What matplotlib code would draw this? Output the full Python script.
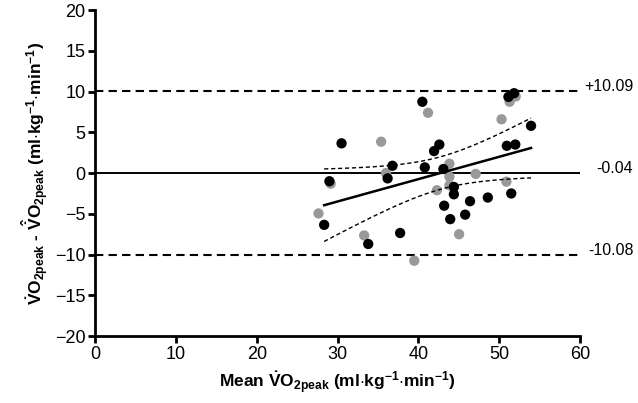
import matplotlib
matplotlib.use('Agg')
import matplotlib.pyplot as plt
import numpy as np

plt.rcParams['font.family'] = ['Liberation Sans', 'DejaVu Sans']
plt.rcParams['mathtext.fontset'] = 'custom'
plt.rcParams['mathtext.rm'] = 'Liberation Sans:bold'
plt.rcParams['mathtext.it'] = 'Liberation Sans:bold'
plt.rcParams['mathtext.bf'] = 'Liberation Sans:bold'

# Bland-Altman data: mean VO2peak vs difference
black_x = [40.5, 30.5, 42.6, 41.95, 36.8, 36.2, 40.8, 43.1, 44.4, 44.4, 43.2, 43.95, 45.8,
           46.4, 48.6, 51.5, 50.95, 52.0, 53.95, 51.15, 51.85, 29.0, 28.35, 33.8, 37.75]
black_y = [8.75, 3.65, 3.5, 2.7, 0.9, -0.65, 0.7, 0.5, -1.7, -2.6, -4.0, -5.65, -5.1,
           -3.45, -3.0, -2.5, 3.35, 3.5, 5.8, 9.35, 9.8, -1.0, -6.35, -8.7, -7.35]
gray_x = [41.2, 35.4, 36.0, 43.85, 43.85, 43.85, 42.3, 47.1, 50.9, 50.3, 51.3, 52.05,
          29.15, 27.65, 33.3, 45.05, 39.5]
gray_y = [7.4, 3.85, 0.0, 1.15, -0.45, -1.5, -2.1, -0.1, -1.05, 6.6, 8.75, 9.4,
          -1.3, -4.95, -7.65, -7.5, -10.75]

bias = -0.04
upper_loa = 10.09
lower_loa = -10.08

# regression of difference on mean (black group), with 95% CI of the line
bx = np.array(black_x)
by = np.array(black_y)
slope, icpt = np.polyfit(bx, by, 1)
n = len(bx)
resid = by - (slope * bx + icpt)
s = np.sqrt(np.sum(resid ** 2) / (n - 2))
xs = np.linspace(bx.min(), bx.max(), 100)
fit = slope * xs + icpt
se = s * np.sqrt(1 / n + (xs - bx.mean()) ** 2 / np.sum((bx - bx.mean()) ** 2))
ci = 2.07 * se

fig = plt.figure(figsize=(6.38, 4.03), dpi=100)
ax = fig.add_axes([0.149, 0.166, 0.760, 0.809])

ax.axhline(upper_loa, color='black', lw=1.5, ls=(0, (4, 2.5)))
ax.axhline(lower_loa, color='black', lw=1.5, ls=(0, (4, 2.5)))
ax.axhline(bias, color='black', lw=1.4)

ax.scatter(gray_x, gray_y, s=55, color='#999999', edgecolors='none', zorder=3)
ax.scatter(black_x, black_y, s=55, color='black', edgecolors='none', zorder=4)

ax.plot(xs, fit, color='black', lw=1.8, zorder=5)
ax.plot(xs, fit + ci, color='black', lw=1.0, ls=(0, (3, 2)), zorder=5)
ax.plot(xs, fit - ci, color='black', lw=1.0, ls=(0, (3, 2)), zorder=5)

for val, lab in [(upper_loa, '+10.09'), (bias, '-0.04'), (lower_loa, '-10.08')]:
    ax.text(66.6, val, lab, ha='right', va='baseline', fontsize=11.5, clip_on=False)

ax.set_xlim(0, 60)
ax.set_ylim(-20, 20)
ax.set_xticks(range(0, 61, 10))
ax.set_yticks(range(-20, 21, 5))
for side in ['top', 'right']:
    ax.spines[side].set_visible(False)
for side in ['left', 'bottom']:
    ax.spines[side].set_linewidth(2)
ax.tick_params(direction='out', length=5, width=2, labelsize=13, pad=2)

ax.set_xlabel(r'Mean $\dot{V}O_{2peak}$ (ml$\cdot$kg$^{-1}$$\cdot$min$^{-1}$)',
              fontsize=12.5, fontweight='bold', labelpad=5)
ax.set_ylabel(r'$\dot{V}O_{2peak}$ - $\hat{\dot{V}}O_{2peak}$ (ml$\cdot$kg$^{-1}$$\cdot$min$^{-1}$)',
              fontsize=12.5, fontweight='bold', labelpad=3)

plt.savefig('out.png', dpi=100)
plt.close()
